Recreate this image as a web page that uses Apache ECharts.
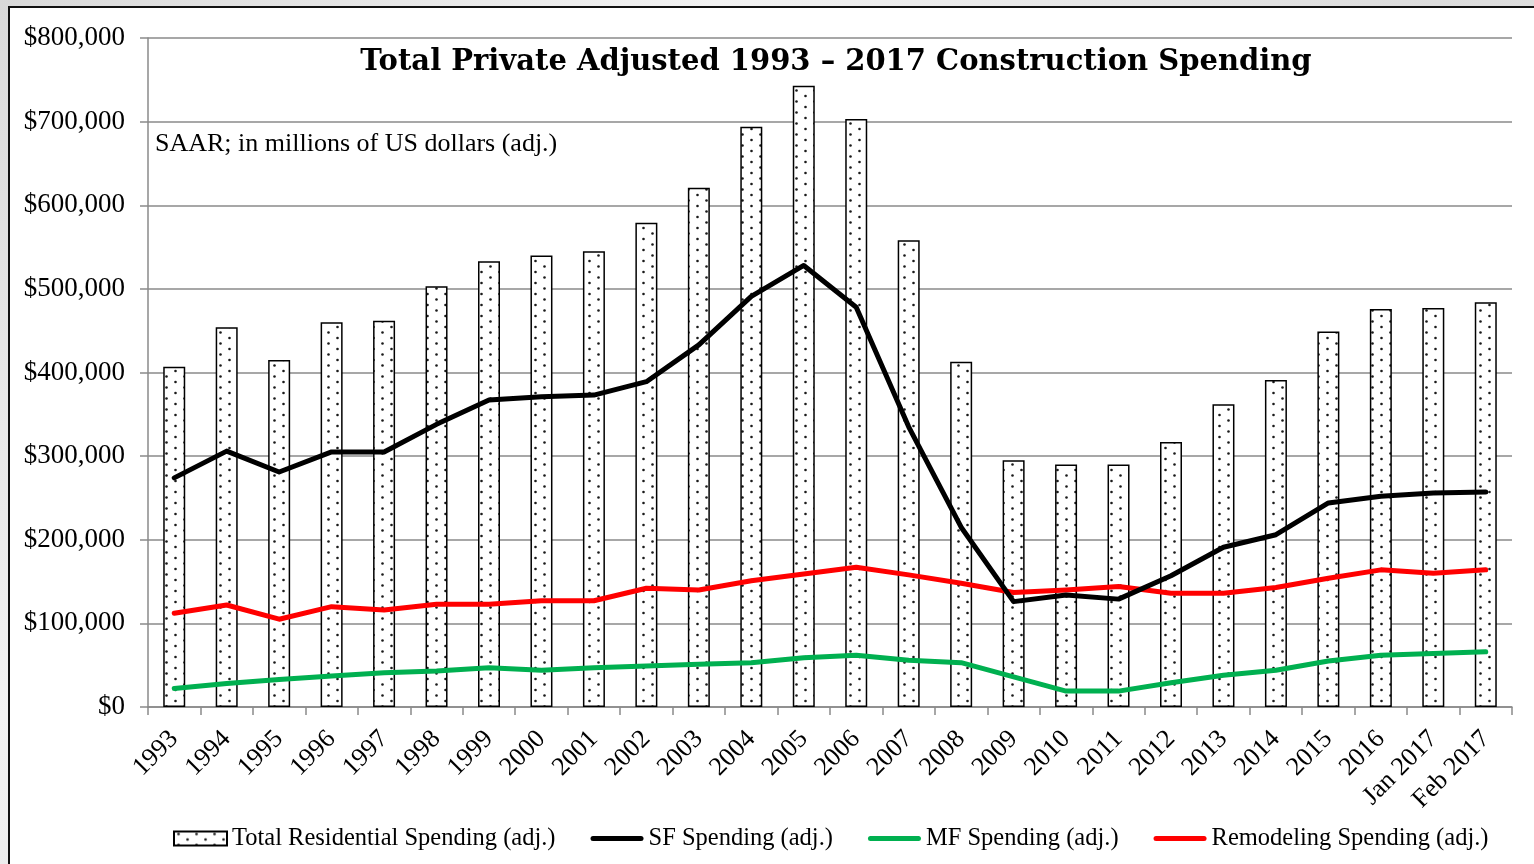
<!DOCTYPE html>
<html>
<head>
<meta charset="utf-8">
<title>Total Private Adjusted 1993 – 2017 Construction Spending</title>
<script src="https://cdn.jsdelivr.net/npm/echarts@6/dist/echarts.min.js"></script>
<style>
  html, body { margin: 0; padding: 0; width: 1534px; height: 864px; overflow: hidden;
    background: linear-gradient(135deg, #d9d9d9 0%, #f2f2f2 30%, #dcdcdc 60%, #efefef 100%); }
  #panel { position: absolute; left: 8px; top: 6px; width: 1540px; height: 870px;
    background: #ffffff; border-left: 2px solid #111; border-top: 2px solid #111; }
  #chart { position: absolute; left: 0; top: 0; width: 1534px; height: 864px; }
</style>
</head>
<body>
<div id="panel"></div>
<div id="chart"></div>
<script>
// Categories along the x axis
const categories = ['1993','1994','1995','1996','1997','1998','1999','2000','2001','2002',
  '2003','2004','2005','2006','2007','2008','2009','2010','2011','2012','2013','2014',
  '2015','2016','Jan 2017','Feb 2017'];

// SAAR, millions of US dollars (adj.)
const totalResidential = [407000, 454000, 415000, 460000, 462000, 503000, 533000, 540000, 545000, 579000,
  621000, 694000, 743000, 703000, 558000, 413000, 295000, 290000, 290000, 317000, 362000, 391000,
  449000, 476000, 477000, 484000];
const sfSpending = [274000, 306000, 281000, 305000, 305000, 338000, 367000, 371000, 373000, 389000,
  433000, 491000, 528000, 478000, 335000, 215000, 126000, 134000, 129000, 157000, 191000, 206000,
  244000, 252000, 256000, 257000];
const mfSpending = [22000, 28000, 33000, 37000, 41000, 43000, 47000, 44000, 47000, 49000,
  51000, 53000, 59000, 62000, 56000, 53000, 36000, 19000, 19000, 29000, 38000, 44000,
  55000, 62000, 64000, 66000];
const remodelingSpending = [112000, 122000, 105000, 120000, 116000, 123000, 123000, 127000, 127000, 142000,
  140000, 151000, 159000, 167000, 158000, 148000, 137000, 140000, 144000, 136000, 136000, 143000,
  154000, 164000, 160000, 164000];

// Y axis ticks
const yMin = 0, yMax = 800000, yStep = 100000;

const serif = '"Liberation Serif", "Times New Roman", serif';

// Dotted fill for the total-spending bars
function dotPattern() {
  const c = document.createElement('canvas');
  c.width = 18; c.height = 11;
  const g = c.getContext('2d');
  g.fillStyle = '#ffffff';
  g.fillRect(0, 0, c.width, c.height);
  g.fillStyle = '#1a1a1a';
  [[4.5, 2.5], [13.5, 8]].forEach(([x, y]) => {
    g.beginPath(); g.arc(x, y, 1.3, 0, Math.PI * 2); g.fill();
  });
  return c;
}

// Legend key for the line series: a thick round-capped stroke centred in the key box
const lineKey = 'path://M0,0 M53,14 M2.5,4.5 L50.5,4.5 A2.5,2.5 0 0 1 50.5,9.5 L2.5,9.5 A2.5,2.5 0 0 1 2.5,4.5 Z';

const chart = echarts.init(document.getElementById('chart'), null, { renderer: 'canvas' });

const option = {
  backgroundColor: 'transparent',
  animation: false,
  title: [{
    text: 'Total Private Adjusted 1993 – 2017 Construction Spending',
    left: 836, top: 48, textAlign: 'center', padding: 0,
    textStyle: { fontFamily: '"DejaVu Serif", Georgia, serif', fontWeight: 'bold', fontSize: 29, color: '#000' }
  }, {
    text: 'SAAR; in millions of US dollars (adj.)',
    left: 155, top: 131, padding: 0,
    textStyle: { fontFamily: serif, fontWeight: 'normal', fontSize: 26, color: '#000' }
  }],
  grid: { left: 148, right: 22, top: 38, bottom: 157, containLabel: false },
  legend: {
    left: 173, top: 826, padding: 0,
    itemWidth: 53, itemHeight: 14, itemGap: 35,
    textStyle: { fontFamily: serif, fontSize: 24.5, color: '#000' },
    data: [
      { name: 'Total Residential Spending (adj.)', icon: 'rect' },
      { name: 'SF Spending (adj.)', icon: lineKey, itemStyle: { color: '#000000' } },
      { name: 'MF Spending (adj.)', icon: lineKey, itemStyle: { color: '#00b050' } },
      { name: 'Remodeling Spending (adj.)', icon: lineKey, itemStyle: { color: '#ff0000' } }
    ]
  },
  xAxis: {
    type: 'category',
    data: categories,
    boundaryGap: true,
    axisLine: { show: true, lineStyle: { color: '#8a8a8a', width: 1.5 } },
    axisTick: { show: true, length: 8, interval: 0, lineStyle: { color: '#8a8a8a', width: 1.5 } },
    axisLabel: { interval: 0, rotate: 45, margin: 28, fontFamily: serif, fontSize: 26, color: '#000' },
    splitLine: { show: false }
  },
  yAxis: {
    type: 'value',
    min: yMin, max: yMax, interval: yStep,
    axisLine: { show: true, lineStyle: { color: '#8a8a8a', width: 1.5 } },
    axisTick: { show: true, length: 8, lineStyle: { color: '#8a8a8a', width: 1.5 } },
    axisLabel: {
      margin: 23, fontFamily: serif, fontSize: 27, color: '#000',
      formatter: v => '$' + v.toLocaleString('en-US')
    },
    splitLine: { show: true, lineStyle: { color: '#8a8a8a', width: 1.5 } }
  },
  series: [{
    name: 'Total Residential Spending (adj.)',
    type: 'bar',
    data: totalResidential,
    barWidth: 22,
    itemStyle: { color: { image: dotPattern(), repeat: 'repeat' }, borderColor: '#000', borderWidth: 1.5 },
    z: 2
  }, {
    name: 'SF Spending (adj.)',
    type: 'line',
    data: sfSpending,
    symbol: 'none',
    lineStyle: { color: '#000000', width: 5, cap: 'round', join: 'round' },
    itemStyle: { color: '#000000' },
    z: 5
  }, {
    name: 'MF Spending (adj.)',
    type: 'line',
    data: mfSpending,
    symbol: 'none',
    lineStyle: { color: '#00b050', width: 5, cap: 'round', join: 'round' },
    itemStyle: { color: '#00b050' },
    z: 4
  }, {
    name: 'Remodeling Spending (adj.)',
    type: 'line',
    data: remodelingSpending,
    symbol: 'none',
    lineStyle: { color: '#ff0000', width: 5, cap: 'round', join: 'round' },
    itemStyle: { color: '#ff0000' },
    z: 4
  }]
};

chart.setOption(option);
</script>
</body>
</html>
